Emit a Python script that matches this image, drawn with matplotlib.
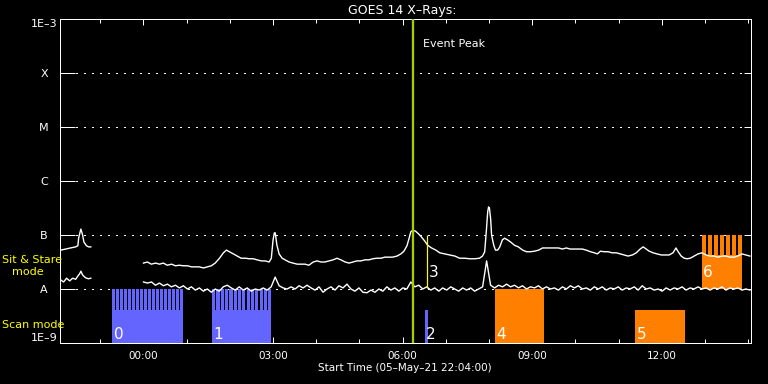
import numpy as np
import matplotlib
matplotlib.use("Agg")
import matplotlib.pyplot as plt
from matplotlib.ticker import FixedLocator, FuncFormatter, NullLocator

# ---------------- data (time: hours after 00:00 06-May-21, value: log10 flux W/m^2)
t_start, t_end = -1.9333, 14.0667          # 22:04 -> 14:04
event_peak_t = 6.24

long_seg1 = [(-1.92, -7.28), (-1.80, -7.26), (-1.69, -7.24), (-1.57, -7.22), (-1.52, -7.20),
             (-1.50, -7.05), (-1.45, -6.89), (-1.41, -7.00), (-1.38, -7.13), (-1.32, -7.20),
             (-1.27, -7.22), (-1.22, -7.22)]

long_seg2 = [(0.00, -7.52), (0.09, -7.50), (0.18, -7.54), (0.28, -7.52), (0.37, -7.54),
             (0.46, -7.52), (0.55, -7.56), (0.65, -7.54), (0.74, -7.57), (0.83, -7.56),
             (0.92, -7.57), (1.02, -7.57), (1.11, -7.59), (1.20, -7.59), (1.29, -7.59),
             (1.39, -7.61), (1.48, -7.59), (1.57, -7.57), (1.66, -7.52), (1.76, -7.43),
             (1.85, -7.33), (1.92, -7.28), (1.99, -7.31), (2.08, -7.35), (2.17, -7.39),
             (2.26, -7.43), (2.36, -7.43), (2.45, -7.44), (2.54, -7.44), (2.63, -7.46),
             (2.73, -7.48), (2.82, -7.48), (2.91, -7.50), (2.96, -7.43), (3.00, -7.09),
             (3.03, -6.96), (3.05, -6.96), (3.09, -7.19), (3.14, -7.35), (3.21, -7.43),
             (3.28, -7.46), (3.37, -7.50), (3.46, -7.52), (3.56, -7.54), (3.65, -7.54),
             (3.74, -7.54), (3.83, -7.56), (3.93, -7.50), (4.02, -7.48), (4.11, -7.50),
             (4.20, -7.50), (4.30, -7.48), (4.39, -7.46), (4.48, -7.43), (4.57, -7.46),
             (4.67, -7.50), (4.76, -7.52), (4.85, -7.50), (4.94, -7.48), (5.03, -7.48),
             (5.13, -7.46), (5.22, -7.46), (5.31, -7.44), (5.40, -7.43), (5.50, -7.43),
             (5.59, -7.41), (5.68, -7.41), (5.77, -7.41), (5.87, -7.39), (5.96, -7.35),
             (6.03, -7.30), (6.10, -7.20), (6.14, -7.09), (6.19, -6.94), (6.24, -6.91),
             (6.30, -6.93), (6.37, -6.98), (6.44, -7.04), (6.51, -7.11), (6.58, -7.19),
             (6.67, -7.24), (6.77, -7.28), (6.86, -7.33), (6.97, -7.35), (7.09, -7.37),
             (7.21, -7.39), (7.32, -7.43), (7.44, -7.43), (7.55, -7.44), (7.67, -7.44),
             (7.78, -7.43), (7.85, -7.39), (7.90, -7.31), (7.94, -6.91), (7.97, -6.57),
             (7.99, -6.48), (8.01, -6.50), (8.04, -6.72), (8.06, -7.00), (8.11, -7.19),
             (8.15, -7.28), (8.20, -7.28), (8.25, -7.22), (8.31, -7.09), (8.36, -7.06),
             (8.43, -7.09), (8.50, -7.13), (8.59, -7.19), (8.68, -7.22), (8.78, -7.28),
             (8.87, -7.31), (8.96, -7.31), (9.05, -7.30), (9.15, -7.28), (9.24, -7.24),
             (9.33, -7.24), (9.42, -7.24), (9.52, -7.24), (9.61, -7.24), (9.70, -7.26),
             (9.79, -7.24), (9.88, -7.26), (9.98, -7.26), (10.07, -7.26), (10.16, -7.26),
             (10.25, -7.28), (10.35, -7.31), (10.44, -7.33), (10.51, -7.35), (10.58, -7.30),
             (10.67, -7.31), (10.76, -7.31), (10.85, -7.33), (10.95, -7.33), (11.04, -7.35),
             (11.13, -7.37), (11.22, -7.39), (11.32, -7.37), (11.41, -7.33), (11.50, -7.26),
             (11.57, -7.22), (11.64, -7.26), (11.71, -7.30), (11.80, -7.33), (11.89, -7.35),
             (11.99, -7.37), (12.08, -7.37), (12.17, -7.37), (12.26, -7.33), (12.33, -7.24),
             (12.38, -7.31), (12.45, -7.39), (12.52, -7.43), (12.59, -7.44), (12.66, -7.43),
             (12.75, -7.39), (12.84, -7.35), (12.93, -7.33), (13.03, -7.37), (13.12, -7.39),
             (13.21, -7.39), (13.30, -7.41), (13.40, -7.39), (13.49, -7.39), (13.58, -7.41),
             (13.67, -7.41), (13.76, -7.39), (13.86, -7.35), (13.95, -7.37), (14.04, -7.39)]

short_seg1 = [(-1.92, -7.83), (-1.85, -7.87), (-1.78, -7.80), (-1.71, -7.85), (-1.64, -7.80),
              (-1.57, -7.82), (-1.52, -7.76), (-1.48, -7.72), (-1.45, -7.67), (-1.41, -7.74),
              (-1.36, -7.78), (-1.32, -7.80), (-1.27, -7.81), (-1.22, -7.80)]

short_seg2_start = 0.0
short_seg2_cadence = 0.09238   # hours between samples
short_seg2 = [-7.87, -7.89, -7.87, -7.93, -7.89, -7.94, -7.91, -7.96, -7.93, -7.98,
              -7.94, -8.00, -7.96, -8.02, -7.98, -8.04, -8.00, -8.06, -8.00, -8.04,
              -7.96, -7.93, -7.98, -8.02, -7.96, -8.02, -7.98, -8.04, -8.00, -8.02,
              -7.98, -8.02, -7.96, -7.78, -7.94, -7.98, -8.00, -7.96, -8.00, -7.94,
              -7.98, -7.93, -7.98, -8.02, -7.96, -8.06, -8.00, -7.96, -8.02, -7.94,
              -7.98, -7.91, -8.00, -8.04, -7.98, -8.06, -8.07, -8.02, -8.06, -8.00,
              -8.04, -7.96, -8.02, -7.98, -8.04, -7.98, -8.00, -7.87, -7.96, -7.93,
              -8.00, -7.96, -8.02, -7.98, -8.04, -7.98, -8.02, -7.96, -8.00, -8.04,
              -7.98, -8.02, -7.98, -8.04, -8.00, -7.96, -7.48, -7.93, -7.98, -7.93,
              -7.96, -7.91, -7.96, -7.93, -7.98, -7.94, -8.00, -7.96, -7.98, -7.94,
              -8.00, -7.96, -8.00, -7.98, -8.02, -7.96, -8.00, -7.94, -7.98, -7.94,
              -8.00, -7.98, -8.02, -7.96, -8.00, -7.96, -8.02, -7.98, -8.00, -7.96,
              -8.02, -7.98, -8.00, -7.96, -8.02, -7.94, -8.00, -7.98, -8.02, -8.00,
              -8.04, -7.98, -8.02, -7.98, -8.00, -7.96, -8.02, -7.98, -8.00, -7.96,
              -8.00, -7.98, -8.02, -7.98, -8.00, -7.96, -8.02, -7.98, -8.00, -7.98,
              -8.02, -8.00, -8.02]

# observations (IRIS-like timeline)
obs_labels = ["0", "1", "2", "3", "4", "5", "6"]
obs_start = [-0.72, 1.59, 6.51, 6.57, 8.13, 11.39, 12.93]
obs_end = [0.92, 2.96, 6.58, 6.57, 9.28, 12.54, 13.86]
obs_mode = ["scan", "scan", "scan", "sit", "scan", "scan", "sit"]
obs_group = [0, 0, 0, 1, 2, 2, 2]
obs_base = [-9.0, -9.0, -9.0, -7.98, -9.0, -9.0, -8.0]
obs_solid_top = [-8.39, -8.39, -8.39, -7.0, -8.0, -8.39, -7.37]
obs_comb_top = [-8.0, -8.0, None, None, None, None, -7.0]
obs_rasters = [18, 14, 0, 0, 0, 0, 7]

level_values = [1e-9, 1e-8, 1e-7, 1e-6, 1e-5, 1e-4, 1e-3]
level_labels = ["1E\u20139", "A", "B", "C", "M", "X", "1E\u20133"]

# ---------------- style
W, H = 768, 384
group_colours = {0: "#6464ff", 1: "#ffff00", 2: "#ff8000"}
event_colour = "#a0d000"
px = 0.72  # one pixel in points

fig = plt.figure(figsize=(W / 100, H / 100), dpi=100, facecolor="black")
ax = fig.add_axes([60 / W, 1 - 343 / H, 691 / W, 324 / H])
ax.set_facecolor("black")
ax.set_yscale("log")
ax.set_ylim(1e-9, 1e-3)
ax.set_xlim(t_start, t_end)
for s in ax.spines.values():
    s.set_color("white")
    s.set_linewidth(px)

# grid dotted lines
ax.yaxis.set_major_locator(FixedLocator(level_values))
ax.yaxis.set_minor_locator(NullLocator())
ax.set_yticklabels(level_labels)
ax.yaxis.grid(True, color="white", linestyle=(0, (1, 5)), linewidth=1.0, zorder=1,
              antialiased=False)
ax.tick_params(axis="y", which="major", direction="in", length=15 * px, width=px,
               colors="white", labelsize=8, pad=16 * px, left=True, right=False)
for lab in ax.get_yticklabels():
    lab.set_horizontalalignment("center")
labs = ax.get_yticklabels()
labs[0].set_verticalalignment("bottom")
labs[-1].set_verticalalignment("top")

ax.xaxis.set_major_locator(FixedLocator(np.arange(0, 13, 3)))
ax.xaxis.set_minor_locator(FixedLocator(np.arange(-1, 15, 1)))
ax.xaxis.set_major_formatter(FuncFormatter(lambda v, p: f"{int(round(v)) % 24:02d}:00"))
ax.tick_params(axis="x", which="major", direction="in", length=6 * px, width=px,
               colors="white", labelsize=7.5, pad=6, top=True, bottom=True)
ax.tick_params(axis="x", which="minor", direction="in", length=4 * px, width=px,
               colors="white", top=True, bottom=True)

# right-side short ticks
ax2 = ax.twinx()
ax2.set_yscale("log")
ax2.set_ylim(1e-9, 1e-3)
ax2.yaxis.set_major_locator(FixedLocator(level_values))
ax2.yaxis.set_minor_locator(NullLocator())
ax2.tick_params(axis="y", direction="in", length=7 * px, width=px, colors="white",
                labelright=False, right=True)
for s in ax2.spines.values():
    s.set_visible(False)

# observation bars
for lab, s, e, mode, g, base, st, ct, n in zip(obs_labels, obs_start, obs_end, obs_mode,
                                                 obs_group, obs_base, obs_solid_top,
                                                 obs_comb_top, obs_rasters):
    col = group_colours[g]
    if e - s <= 0:
        ax.vlines(s, 10 ** base, 10 ** st, color=col, linewidth=px * 1.2, zorder=5)
    else:
        ax.bar(s, 10 ** st - 10 ** base, width=e - s, bottom=10 ** base, align="edge",
               color=col, linewidth=0, zorder=2)
        if ct is not None and n > 0:
            f = 0.74
            period = (e - s) / (n - 1 + f)
            lefts = [s + i * period for i in range(n)]
            ax.bar(lefts, 10 ** ct - 10 ** st, width=f * period, bottom=10 ** st,
                   align="edge", color=col, linewidth=0, zorder=2)
    ybase = -8.926 if mode == "scan" else -7.78
    ax.annotate(lab, xy=(s, 10 ** ybase), xytext=(1.2 * px, 0), textcoords="offset points",
                color="white", fontsize=11, ha="left", va="baseline", zorder=6)

# GOES curves
for seg in (long_seg1, long_seg2, short_seg1):
    t, v = zip(*seg)
    ax.plot(t, 10 ** np.array(v), color="white", linewidth=1.0, zorder=4)
t_s2 = short_seg2_start + short_seg2_cadence * np.arange(len(short_seg2))
ax.plot(t_s2, 10 ** np.array(short_seg2), color="white", linewidth=1.0, zorder=4)

# event peak
ax.axvline(event_peak_t, color=event_colour, linewidth=2.3 * px, zorder=7)
ax.annotate("Event Peak", xy=(event_peak_t, 1), xycoords=("data", "axes fraction"),
            xytext=(10 * px, -28 * px), textcoords="offset points", color="white",
            fontsize=8, ha="left", va="baseline")

# titles and labels
fig.text(402 / W, 1 - 14 / H, "GOES 14 X\u2013Rays:", color="white", fontsize=9,
         ha="center", va="baseline")
fig.text(405 / W, 1 - 371 / H, "Start Time (05\u2013May\u201321 22:04:00)", color="white",
         fontsize=7.5, ha="center", va="baseline")
fig.text(2 / W, 1 - 263 / H, "Sit & Stare", color="#ffff00", fontsize=8, ha="left",
         va="baseline", zorder=10)
fig.text(12 / W, 1 - 275 / H, "mode", color="#ffff00", fontsize=8, ha="left",
         va="baseline", zorder=10)
fig.text(2 / W, 1 - 328 / H, "Scan mode", color="#ffff00", fontsize=8, ha="left",
         va="baseline", zorder=10)

fig.savefig("out.png", dpi=100, facecolor="black")
